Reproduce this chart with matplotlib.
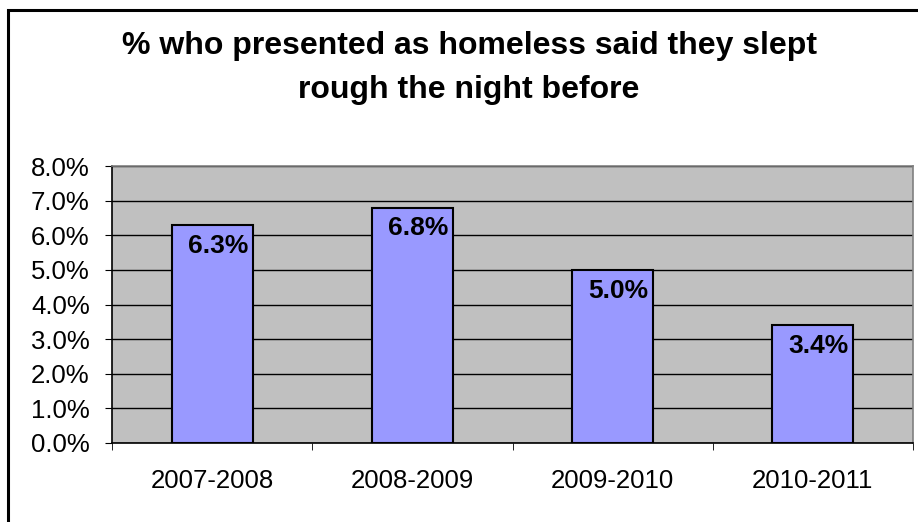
import matplotlib
matplotlib.use("Agg")
import matplotlib.pyplot as plt
from matplotlib.ticker import FixedLocator, FuncFormatter

plt.rcParams['font.family'] = ['Liberation Sans', 'DejaVu Sans']

# rough sleeping share per year
years = ["2007-2008", "2008-2009", "2009-2010", "2010-2011"]
pct_rough = [6.3, 6.8, 5.0, 3.4]

fig = plt.figure(figsize=(9.18, 5.22), dpi=100)

# full-size overlay in pixel units for the outer chart frame
frame = fig.add_axes([0, 0, 1, 1], zorder=-1)
frame.set_xlim(0, 918)
frame.set_ylim(0, 522)
frame.axis('off')
frame.plot([8, 8, 930], [-10, 512, 512], color='black', linewidth=2.2,
           solid_joinstyle='miter', clip_on=False)

ax = fig.add_axes([112/918, 79/522, 801/918, 277/522])
ax.set_facecolor('#C0C0C0')
x = list(range(len(years)))
ax.bar(x, pct_rough, width=0.405, color='#9999FF', edgecolor='black', linewidth=1.5, zorder=3)

for xi, v in zip(x, pct_rough):
    ax.text(xi + 0.03, v - 0.6, "%.1f%%" % v, ha='center', va='center',
            fontsize=19, fontweight='bold', zorder=4)

ax.set_xlim(-0.5, len(years) - 0.5)
ax.set_ylim(0, 8)
ax.yaxis.set_major_locator(FixedLocator([i for i in range(9)]))
ax.yaxis.set_major_formatter(FuncFormatter(lambda v, p: "%.1f%%" % v))
ax.yaxis.grid(True, color='black', linewidth=1, zorder=1)

ax.set_xticks(x)
ax.set_xticklabels(years)
ax.set_xticks([i - 0.5 for i in range(len(years) + 1)], minor=True)
ax.tick_params(axis='x', which='major', length=0, pad=19, labelsize=18.5)
ax.tick_params(axis='x', which='minor', length=5, direction='out', color='black')
ax.tick_params(axis='y', length=5, direction='out', pad=11, labelsize=18.5)

ax.spines['left'].set_color('black')
ax.spines['bottom'].set_color('black')
ax.spines['top'].set_color('#808080')
ax.spines['right'].set_color('#808080')
for s in ax.spines.values():
    s.set_linewidth(1.2)

fig.text(469/918, 1 - 68/522, "% who presented as homeless said they slept\nrough the night before",
         ha='center', va='center', fontsize=23, fontweight='bold', linespacing=1.6)

fig.savefig("out.png", dpi=100)
